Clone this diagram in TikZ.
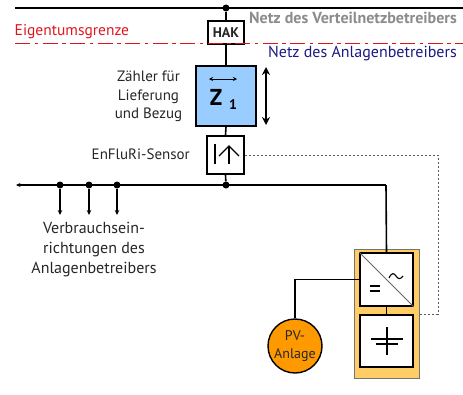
\documentclass[tikz,border=0pt]{standalone}
\usepackage{fontspec}
\setmainfont{PT Sans}
\usetikzlibrary{arrows.meta}
\definecolor{zblue}{HTML}{99CCFF}
\definecolor{pvorange}{HTML}{FF9900}
\definecolor{boxorange}{HTML}{FFCC66}
\definecolor{redline}{HTML}{E0141E}
\definecolor{navytext}{HTML}{1A1A80}
\begin{document}
\begin{tikzpicture}[x=1pt,y=-1pt,
  wire/.style={draw=black,line width=1.6pt},
  sbox/.style={draw=black,line width=1.6pt,fill=white,inner sep=0pt,minimum width=#1},
  lab/.style={text=black!85,inner sep=0pt},
  jdot/.style={circle,fill=black,inner sep=0pt,minimum size=7pt},
  darrow/.style={-{Stealth[length=5pt,width=4.5pt]},line width=1.3pt}]
\useasboundingbox (0,0) rectangle (463,394);
\coordinate (topL) at (15,8); \coordinate (topR) at (463,8);
\coordinate (redL) at (15,43.5); \coordinate (redR) at (463,43.5);
\draw[wire] (topL) -- (topR);
\node[jdot] (top) at (226,8) {};
\node[sbox=36pt,minimum height=23pt] (hak) at (226,32.5) {};
\node[sbox=60pt,minimum height=60pt,fill=zblue] (z) at (226,96) {};
\node[sbox=37pt,minimum height=38pt] (sens) at (225.5,155) {};
\node[jdot] (j0) at (226,185) {};
\node[jdot] (j1) at (60,185) {};
\node[jdot] (j2) at (89,185) {};
\node[jdot] (j3) at (117,185) {};
\coordinate (busL) at (16,185);
\coordinate (busR) at (386,185);
\node[draw=black!55,line width=1pt,fill=boxorange,minimum width=65pt,minimum height=129pt,inner sep=0pt] (conv) at (386.5,313.5) {};
\node[sbox=53pt,minimum height=53pt] (inv) at (386.5,279.5) {};
\node[sbox=53pt,minimum height=52pt] (bat) at (386.5,341) {};
\node[circle,draw=black,line width=1.4pt,fill=pvorange,minimum size=54pt,inner sep=0pt,align=center,text=black!85,font=\fontsize{14pt}{17.5pt}\selectfont] (pv) at (295,346) {PV-\\Anlage};
\draw[wire] (top) -- (hak.north);
\draw[wire] (hak.south) -- (z.north);
\draw[wire] (z.south) -- (sens.north);
\draw[wire] (sens.south) -- (j0);
\draw[wire,-{Stealth[length=4.5pt,width=4pt]}] (busR) -- (busL);
\draw[wire] (busR) -- (inv.north);
\draw[wire] (pv.north) |- (inv.west);
\draw[wire] (inv.south) -- (bat.north);
\coordinate (dashA) at (438,155);
\coordinate (dashB) at (438,314);
\draw[draw=black!65,line width=.8pt,dash pattern=on 2.5pt off 1.5pt] (sens.east) -- (dashA) -- (dashB) -- (conv.east |- dashB);
\coordinate (c1) at (60,215); \coordinate (c2) at (89,215); \coordinate (c3) at (117,215);
\draw[darrow] (j1) -- (c1);
\draw[darrow] (j2) -- (c2);
\draw[darrow] (j3) -- (c3);
\draw[redline,line width=1.4pt,dash pattern=on 15pt off 4.5pt on 3.5pt off 4.5pt] (redL) -- (redR);
\coordinate (va) at (266,67); \coordinate (vb) at (266,125);
\draw[{Stealth[length=8pt,width=8pt]}-{Stealth[length=8pt,width=8pt]},line width=1.4pt] (va) -- (vb);
\coordinate (ha) at (209,79); \coordinate (hb) at (237,79);
\draw[{Stealth[length=4pt,width=4pt]}-{Stealth[length=4pt,width=4pt]},line width=1pt] (ha) -- (hb);
\node[lab,font=\bfseries\fontsize{14pt}{16pt}\selectfont] (hakt) at (226,32.5) {HAK};
\node[inner sep=0pt,font=\bfseries\fontsize{23pt}{23pt}\selectfont] (zt) at (216,97) {Z};
\node[inner sep=0pt,font=\bfseries\fontsize{14pt}{15pt}\selectfont] (zi) at (233,105) {1};
\node[lab,anchor=west,text=redline,font=\fontsize{15.5pt}{17pt}\selectfont] (eig) at (14.5,31.5) {Eigentumsgrenze};
\node[lab,anchor=east,text=black!45,font=\fontsize{16pt}{18pt}\bfseries\selectfont] (vnb) at (457,18) {Netz des Verteilnetzbetreibers};
\node[lab,anchor=east,text=navytext,font=\fontsize{16pt}{18pt}\selectfont] (anb) at (457,53.5) {Netz des Anlagenbetreibers};
\node[lab,align=center,font=\fontsize{15pt}{18.5pt}\selectfont] (zl) at (148.5,96.5) {Zähler für\\Lieferung\\und Bezug};
\node[lab,anchor=east,font=\fontsize{15pt}{17pt}\selectfont] (enf) at (190,154.5) {EnFluRi-Sensor};
\node[lab,align=center,font=\fontsize{16pt}{20pt}\selectfont] (ver) at (94,249.5) {Verbrauchsein-\\richtungen des\\Anlagenbetreibers};
\coordinate (s1) at (214.5,144); \coordinate (s2) at (214.5,164);
\draw[line width=2pt] (s1) -- (s2);
\coordinate (s3) at (229,164); \coordinate (s4) at (229,146);
\draw[line width=1.4pt] (s3) -- (s4);
\coordinate (s5) at (219,156); \coordinate (s6) at (239,156);
\draw[line width=1.4pt] (s5) -- (s4) -- (s6);
\draw[draw=black!60,line width=.8pt] (inv.north west) -- (inv.south east);
\coordinate (e1) at (369.5,285.5); \coordinate (e2) at (380,285.5);
\coordinate (e3) at (369.5,291); \coordinate (e4) at (380,291);
\draw[line width=2pt] (e1) -- (e2) (e3) -- (e4);
\coordinate (w1) at (389,278); \coordinate (w2) at (403,276);
\draw[line width=1.1pt] (w1) .. controls (392,272) and (394,273) .. (396,276) .. controls (398,279) and (400,280) .. (w2);
\coordinate (b1) at (387,327); \coordinate (b2) at (387,355);
\coordinate (b3) at (371,339); \coordinate (b4) at (403,339);
\coordinate (b5) at (376,344); \coordinate (b6) at (398,344);
\draw[line width=1.2pt] (b1) -- (b2) (b3) -- (b4);
\draw[line width=2pt] (b5) -- (b6);
\end{tikzpicture}
\end{document}
